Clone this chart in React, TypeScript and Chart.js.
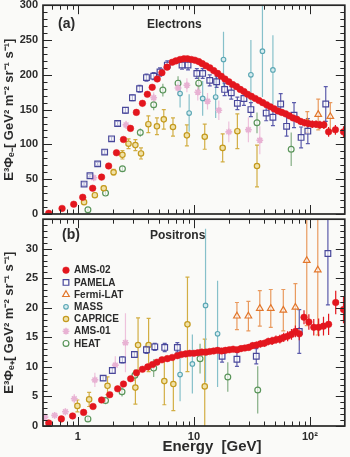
import React, { useEffect, useRef } from 'react';
import { Chart, registerables } from 'chart.js';
import { drawPoint } from 'chart.js/helpers';

Chart.register(...registerables);

// ---------------- axes ----------------
const X_MIN = 0.5;
const X_MAX = 200;
const X_MAJOR = [1, 10, 100];
const X_MINOR = [0.6, 0.7, 0.8, 0.9, 2, 3, 4, 5, 6, 7, 8, 9, 20, 30, 40, 50, 60, 70, 80, 90];
const X_LABELS = ['1', '10', '10²'];
const X_TITLE = 'Energy  [GeV]';

const E_Y_MAX = 300;
const P_Y_MAX = 35;
const E_TITLE = 'E³Φₑ₋[ GeV² m⁻² sr⁻¹ s⁻¹]';
const P_TITLE = 'E³Φₑ₊[ GeV² m⁻² sr⁻¹ s⁻¹]';

// ---------------- electrons (top panel) ----------------
const E_AMS02_X = [0.56, 0.73, 0.92, 1.10, 1.34, 1.60, 1.84, 2.15, 2.47, 2.84, 3.19, 3.60, 3.97, 4.37, 4.83, 5.30, 5.87, 6.50, 7.0, 7.6, 8.2, 8.8, 9.5, 10.2, 11.0, 11.8, 12.7, 13.7, 14.8, 16.0, 17.2, 18.5, 20.0, 21.6, 23.3, 25.1, 27.0, 29.0, 31.3, 33.8, 36.4, 39.2, 42.3, 45.6, 49.2, 53.0, 57.2, 61.7, 66.5, 71.7, 77.3, 83.4, 90.0, 97.0, 105, 113, 122, 132, 145, 166, 195];
const E_AMS02_Y = [1, 8, 14, 24, 37, 53, 69, 88, 107, 123, 146, 159, 172, 182, 194, 203, 211, 218, 220, 222, 223, 223, 222, 221, 219, 216, 213, 210, 206, 202, 198, 194, 190, 186, 183, 179, 176, 172, 169, 166, 163, 160, 157, 154, 151, 148, 146, 144, 141, 138, 136, 133, 131, 130, 129, 129, 128, 128, 118, 121, 118];
const E_AMS02_ERR = [1, 1, 1, 1, 1.5, 1.5, 2, 2, 2, 2.5, 3, 3, 3, 3, 3, 3, 3, 3, 3, 3, 3, 3, 3, 3, 3, 3, 3, 3, 3, 3, 3, 3, 3, 3, 3, 3, 3, 3, 3.5, 3.5, 3.5, 3.5, 3.5, 4, 4, 4, 4, 4, 4.5, 4.5, 5, 5, 5, 5, 5.5, 5.5, 6, 6, 7, 7, 8];

const E_PAMELA_X = [1.13, 1.27, 1.48, 1.70, 1.95, 2.20, 2.57, 2.95, 3.40, 3.90, 4.50, 5.10, 5.90, 7.90, 8.90, 10.6, 11.9, 13.7, 15.7, 18.4, 21.0, 23.7, 27.0, 31.0, 42.0, 48.0, 56.0, 63.0, 73.0, 84.0, 96.0, 137];
const E_PAMELA_Y = [43, 55, 72, 89, 108, 130, 149, 167, 180, 196, 198, 204, 214, 214, 214, 202, 202, 192, 190, 179, 174, 159, 166, 150, 145, 139, 158, 126, 142, 110, 119, 158];
const E_PAMELA_ERR = [2, 2, 2, 3, 3, 3, 4, 4, 5, 5, 5, 6, 6, 6, 7, 7, 7, 8, 8, 9, 9, 9, 10, 10, 11, 12, 15, 14, 18, 15, 18, 25];

const E_FERMI_X = [95, 118, 150];
const E_FERMI_Y = [132, 143, 140];
const E_FERMI_ERR = [15, 22, 20];

const E_MASS_X = [7.6, 9.1, 11.9, 15.4, 18.0, 31.0, 39.0, 48.0];
const E_MASS_Y = [173, 145, 166, 168, 222, 200, 234, 207];
const E_MASS_ERR = [20, 27, 25, 30, 40, 50, 66, 50];

const E_CAPRICE_X = [1.13, 1.40, 1.67, 2.03, 2.42, 2.73, 3.13, 3.50, 4.05, 4.80, 5.50, 6.60, 8.70, 12.4, 17.7, 23.7, 35.0];
const E_CAPRICE_Y = [17, 27, 37, 60, 85, 101, 99, 87, 129, 126, 136, 125, 113, 111, 95, 119, 69];
const E_CAPRICE_ERR = [2, 3, 3, 4, 6, 7, 8, 8, 12, 12, 14, 13, 15, 18, 20, 25, 30];

const E_AMS01_X = [1.37, 2.60, 4.50, 7.30, 8.70, 10.8, 13.1, 16.4, 20.0, 29.5, 37.0];
const E_AMS01_Y = [52, 128, 167, 181, 185, 175, 162, 149, 118, 121, 106];
const E_AMS01_ERR = [4, 6, 8, 10, 10, 12, 12, 14, 15, 18, 20];

const E_HEAT_X = [1.22, 1.73, 2.42, 3.45, 4.50, 5.40, 7.30, 11.0, 35.0, 69.0];
const E_HEAT_Y = [6, 30, 65, 117, 157, 178, 188, 188, 131, 93];
const E_HEAT_ERR = [2, 3, 4, 6, 8, 9, 10, 11, 15, 24];

// ---------------- positrons (bottom panel) ----------------
const P_AMS02_X = [0.56, 0.72, 0.90, 1.12, 1.35, 1.60, 1.88, 2.20, 2.47, 2.85, 3.20, 3.60, 4.00, 4.40, 4.80, 5.30, 5.90, 6.50, 7.20, 7.80, 8.50, 9.20, 10.0, 10.8, 11.7, 12.7, 13.7, 14.8, 16.0, 17.3, 18.7, 20.2, 21.8, 23.6, 25.5, 27.5, 29.7, 32.1, 34.7, 37.5, 40.5, 43.7, 47.2, 51.0, 55.1, 59.5, 64.3, 69.4, 75.0, 81.0, 89.0, 98.0, 108, 119, 131, 145, 167, 195];
const P_AMS02_Y = [0.5, 1.2, 1.7, 2.3, 3.3, 4.4, 5.3, 6.3, 7.1, 8.0, 9.0, 9.6, 10.0, 10.4, 10.8, 11.2, 11.4, 11.6, 11.9, 12.1, 12.2, 12.3, 12.3, 12.4, 12.5, 12.5, 12.6, 12.7, 12.8, 12.7, 12.8, 12.9, 13.0, 12.9, 13.1, 13.2, 13.3, 13.6, 13.7, 13.9, 14.0, 14.3, 14.4, 14.6, 14.7, 15.0, 15.2, 15.5, 16.0, 15.6, 18.4, 17.6, 16.7, 16.7, 16.9, 17.2, 20.9, 19.7];
const P_AMS02_ERR = [0.2, 0.2, 0.2, 0.2, 0.2, 0.2, 0.2, 0.2, 0.2, 0.2, 0.25, 0.25, 0.25, 0.25, 0.3, 0.3, 0.3, 0.3, 0.3, 0.3, 0.3, 0.3, 0.35, 0.35, 0.35, 0.35, 0.4, 0.4, 0.4, 0.4, 0.4, 0.45, 0.45, 0.45, 0.5, 0.5, 0.5, 0.55, 0.55, 0.6, 0.6, 0.65, 0.7, 0.7, 0.75, 0.8, 0.85, 0.9, 1.0, 1.1, 1.2, 1.3, 1.4, 1.5, 1.6, 1.8, 2.0, 2.3];

const P_PAMELA_X = [1.65, 1.98, 2.42, 3.07, 3.90, 4.60, 5.60, 7.20, 17.5, 23.5, 34.5, 81.0, 143];
const P_PAMELA_Y = [8.1, 9.4, 11.2, 12.1, 12.9, 13.4, 13.3, 13.3, 11.8, 11.3, 11.8, 16.0, 29.2];
const P_PAMELA_ERR = [0.4, 0.5, 0.5, 0.5, 0.6, 0.6, 0.7, 0.8, 1.0, 1.2, 1.3, 3.7, 8.7];

const P_FERMI_X = [23.5, 29.5, 37.0, 46.0, 59.0, 75.0, 94.0, 117];
const P_FERMI_Y = [18.6, 18.6, 19.9, 19.9, 19.6, 20.1, 28.0, 26.4];
const P_FERMI_ERR = [2.3, 2.5, 3.0, 3.2, 3.5, 4.0, 11, 11];

const P_MASS_X = [7.6, 9.7, 12.6, 16.0];
const P_MASS_Y = [8.7, 10.5, 20.4, 15.6];
const P_MASS_ERR = [4.5, 5, 13, 9];

const P_CAPRICE_X = [0.99, 1.25, 1.80, 3.13, 3.30, 4.07, 5.56, 6.65, 8.80, 12.4];
const P_CAPRICE_Y = [3.4, 4.5, 6.8, 6.5, 13.7, 13.7, 7.6, 7.1, 17.2, 6.7];
const P_CAPRICE_ERR = [1, 1.2, 1.5, 2.8, 4.6, 4.5, 4, 4.5, 8, 8];

const P_AMS01_X = [0.52, 0.63, 0.78, 0.93, 1.40, 2.10, 2.57];
const P_AMS01_Y = [1.5, 1.8, 2.4, 4.6, 7.8, 10.3, 14.1];
const P_AMS01_ERR = [0.5, 0.5, 0.6, 0.8, 1.2, 1.5, 5];

const P_HEAT_X = [1.22, 1.73, 2.40, 3.10, 4.50, 11.3, 19.6, 35.5];
const P_HEAT_Y = [1.2, 4.3, 5.8, 8.6, 9.8, 11.4, 8.3, 6.1];
const P_HEAT_ERR = [0.4, 0.6, 0.8, 1.0, 1.5, 2.5, 2.5, 4];

// ---------------- styles ----------------
const FONT = "'Liberation Sans', Arial, Helvetica, sans-serif";
const TXT = '#2b2b2b';

type Sty = { label: string; ps: string; r: number; fill: string; stroke: string; bw: number; err: string; cap: number };
const S_AMS02: Sty = { label: 'AMS-02', ps: 'circle', r: 3.3, fill: '#e3161e', stroke: '#e3161e', bw: 0.5, err: '#e3161e', cap: 0 };
const S_PAMELA: Sty = { label: 'PAMELA', ps: 'rect', r: 4.0, fill: 'rgba(255,255,255,0.6)', stroke: '#48479a', bw: 1.2, err: '#5b5bab', cap: 2 };
const S_FERMI: Sty = { label: 'Fermi-LAT', ps: 'triangle', r: 3.8, fill: 'rgba(255,255,255,0.6)', stroke: '#e2772c', bw: 1.2, err: '#e99a5e', cap: 2 };
const S_MASS: Sty = { label: 'MASS', ps: 'circle', r: 2.3, fill: '#d6ecef', stroke: '#5aa6b3', bw: 1.1, err: '#86c0ca', cap: 0 };
const S_CAPRICE: Sty = { label: 'CAPRICE', ps: 'circle', r: 2.7, fill: '#f0e2a8', stroke: '#c49a1e', bw: 1.2, err: '#d2ae44', cap: 2 };
const S_AMS01: Sty = { label: 'AMS-01', ps: 'star', r: 3.4, fill: '#e8b2d3', stroke: '#e8b2d3', bw: 1.6, err: '#eec2dc', cap: 0 };
const S_HEAT: Sty = { label: 'HEAT', ps: 'circle', r: 2.9, fill: 'rgba(255,255,255,0.6)', stroke: '#5a955a', bw: 1.2, err: '#84ae84', cap: 0 };

function ds(s: Sty, xs: number[], ys: number[], errs: number[]) {
  return {
    label: s.label,
    data: xs.map((x, i) => ({ x, y: ys[i] })),
    errs,
    errColor: s.err,
    cap: s.cap,
    pointStyle: s.ps,
    pointRadius: s.r,
    pointHoverRadius: s.r,
    pointBackgroundColor: s.fill,
    pointBorderColor: s.stroke,
    pointBorderWidth: s.bw,
    showLine: false,
  };
}

// ---------------- plugins ----------------
const errPlugin = {
  id: 'errbars',
  beforeDatasetsDraw(chart: any) {
    const { ctx, chartArea: a, scales } = chart;
    const xs = scales.x, ys = scales.y;
    ctx.save();
    ctx.beginPath();
    ctx.rect(a.left, a.top, a.right - a.left, a.bottom - a.top);
    ctx.clip();
    chart.data.datasets.slice().reverse().forEach((d: any) => {
      if (!d.errs) return;
      ctx.strokeStyle = d.errColor;
      ctx.lineWidth = 1.2;
      d.data.forEach((p: any, i: number) => {
        const e = d.errs[i];
        if (!e) return;
        const px = xs.getPixelForValue(p.x);
        const y1 = ys.getPixelForValue(p.y - e);
        const y2 = ys.getPixelForValue(p.y + e);
        ctx.beginPath();
        ctx.moveTo(px, y1);
        ctx.lineTo(px, y2);
        if (d.cap) {
          ctx.moveTo(px - d.cap, y1); ctx.lineTo(px + d.cap, y1);
          ctx.moveTo(px - d.cap, y2); ctx.lineTo(px + d.cap, y2);
        }
        ctx.stroke();
      });
    });
    ctx.restore();
  },
};

const framePlugin = {
  id: 'frame',
  afterDraw(chart: any, _args: any, o: any) {
    const { ctx, chartArea: a, scales } = chart;
    const xs = scales.x, ys = scales.y;
    ctx.save();
    ctx.strokeStyle = '#262626';
    ctx.lineWidth = 1;
    ctx.beginPath();
    const xt = (v: number, len: number) => {
      const p = Math.round(xs.getPixelForValue(v)) + 0.5;
      ctx.moveTo(p, a.bottom); ctx.lineTo(p, a.bottom - len);
      ctx.moveTo(p, a.top); ctx.lineTo(p, a.top + len);
    };
    X_MAJOR.forEach((v) => xt(v, 9));
    X_MINOR.forEach((v) => xt(v, 4.5));
    const n = Math.round((ys.max - ys.min) / o.yMinor);
    for (let k = 0; k <= n; k++) {
      const v = ys.min + k * o.yMinor;
      const major = Math.abs(v / o.yMajor - Math.round(v / o.yMajor)) < 1e-6;
      const len = major ? 9 : 4.5;
      const p = Math.round(ys.getPixelForValue(v)) + 0.5;
      ctx.moveTo(a.left, p); ctx.lineTo(a.left + len, p);
      ctx.moveTo(a.right, p); ctx.lineTo(a.right - len, p);
    }
    ctx.stroke();
    ctx.lineWidth = 1.7;
    ctx.strokeRect(a.left, a.top, a.right - a.left, a.bottom - a.top);
    ctx.restore();
  },
};

const textPlugin = {
  id: 'texts',
  afterDraw(chart: any, _args: any, o: any) {
    const { ctx, chartArea: a } = chart;
    ctx.save();
    ctx.fillStyle = TXT;
    ctx.textBaseline = 'middle';
    (o.items || []).forEach((t: any) => {
      ctx.font = `bold ${t.size}px ${FONT}`;
      ctx.textAlign = t.align || 'left';
      const x = t.fx !== undefined ? a.left + t.fx * (a.right - a.left) : a.left + t.dx;
      const y = t.below ? a.bottom + t.dy : a.top + t.dy;
      ctx.fillText(t.text, x, y);
    });
    if (o.legend) {
      const L = o.legend;
      chart.data.datasets.forEach((d: any, i: number) => {
        const y = a.top + L.dy + i * L.gap;
        const mx = a.left + L.markerDx;
        ctx.fillStyle = d.pointBackgroundColor;
        ctx.strokeStyle = d.pointBorderColor;
        ctx.lineWidth = d.pointBorderWidth;
        drawPoint(ctx, { pointStyle: d.pointStyle, radius: d.pointRadius, borderWidth: d.pointBorderWidth, rotation: 0 } as any, mx, y);
        ctx.fillStyle = TXT;
        ctx.font = `bold ${L.size}px ${FONT}`;
        ctx.textAlign = 'left';
        ctx.fillText(d.label, a.left + L.textDx, y + 0.5);
      });
    }
    ctx.restore();
  },
};

function yScale(max: number, step: number, title: string, hideMax: boolean) {
  return {
    type: 'linear',
    min: 0,
    max,
    ticks: {
      stepSize: step,
      autoSkip: false,
      padding: 5,
      color: TXT,
      font: { family: FONT, size: 11, weight: 'bold' },
      callback: (v: any) => (hideMax && Math.abs(v - max) < 1e-9 ? '' : String(v)),
    },
    grid: { display: false, drawTicks: false },
    border: { display: false },
    title: { display: true, text: title, color: TXT, font: { family: FONT, size: 13, weight: 'bold' }, padding: { top: 2, bottom: 0 } },
    afterFit: (s: any) => {
      s.width = 43;
      s.paddingTop = 0;
      s.paddingBottom = 0;
    },
  };
}

function xScale(show: boolean) {
  return {
    type: 'logarithmic',
    min: X_MIN,
    max: X_MAX,
    display: show,
    ticks: {
      autoSkip: false,
      maxRotation: 0,
      minRotation: 0,
      padding: 4,
      color: TXT,
      font: { family: FONT, size: 11, weight: 'bold' },
      callback: (v: any) => {
        const i = X_MAJOR.findIndex((m) => Math.abs(v - m) / m < 1e-6);
        return i >= 0 ? X_LABELS[i] : '';
      },
    },
    grid: { display: false, drawTicks: false },
    border: { display: false },
    afterFit: (s: any) => {
      s.height = show ? 31 : 0;
      s.paddingLeft = 0;
      s.paddingRight = 0;
    },
  };
}

function topConfig(): any {
  return {
    type: 'scatter',
    data: {
      datasets: [
        ds(S_AMS02, E_AMS02_X, E_AMS02_Y, E_AMS02_ERR),
        ds(S_PAMELA, E_PAMELA_X, E_PAMELA_Y, E_PAMELA_ERR),
        ds(S_FERMI, E_FERMI_X, E_FERMI_Y, E_FERMI_ERR),
        ds(S_MASS, E_MASS_X, E_MASS_Y, E_MASS_ERR),
        ds(S_CAPRICE, E_CAPRICE_X, E_CAPRICE_Y, E_CAPRICE_ERR),
        ds(S_AMS01, E_AMS01_X, E_AMS01_Y, E_AMS01_ERR),
        ds(S_HEAT, E_HEAT_X, E_HEAT_Y, E_HEAT_ERR),
      ],
    },
    options: {
      responsive: false,
      animation: false,
      events: [],
      layout: { padding: { top: 5, right: 3, bottom: 8, left: 0 } },
      scales: { x: xScale(false), y: yScale(E_Y_MAX, 50, E_TITLE, false) },
      plugins: {
        legend: { display: false },
        tooltip: { enabled: false },
        frame: { yMinor: 10, yMajor: 50 },
        texts: {
          items: [
            { text: '(a)', size: 14, dx: 15, dy: 19 },
            { text: 'Electrons', size: 12, dx: 104, dy: 19 },
          ],
        },
      },
    },
    plugins: [errPlugin, framePlugin, textPlugin],
  };
}

function bottomConfig(): any {
  return {
    type: 'scatter',
    data: {
      datasets: [
        ds(S_AMS02, P_AMS02_X, P_AMS02_Y, P_AMS02_ERR),
        ds(S_PAMELA, P_PAMELA_X, P_PAMELA_Y, P_PAMELA_ERR),
        ds(S_FERMI, P_FERMI_X, P_FERMI_Y, P_FERMI_ERR),
        ds(S_MASS, P_MASS_X, P_MASS_Y, P_MASS_ERR),
        ds(S_CAPRICE, P_CAPRICE_X, P_CAPRICE_Y, P_CAPRICE_ERR),
        ds(S_AMS01, P_AMS01_X, P_AMS01_Y, P_AMS01_ERR),
        ds(S_HEAT, P_HEAT_X, P_HEAT_Y, P_HEAT_ERR),
      ],
    },
    options: {
      responsive: false,
      animation: false,
      events: [],
      layout: { padding: { top: 1, right: 3, bottom: 0, left: 0 } },
      scales: { x: xScale(true), y: yScale(P_Y_MAX, 5, P_TITLE, true) },
      plugins: {
        legend: { display: false },
        tooltip: { enabled: false },
        frame: { yMinor: 1, yMajor: 5 },
        texts: {
          items: [
            { text: '(b)', size: 14, dx: 19, dy: 16 },
            { text: 'Positrons', size: 12, dx: 107, dy: 16 },
            { text: X_TITLE, size: 15, fx: 0.56, dy: 21, below: true, align: 'center' },
          ],
          legend: { dy: 51, gap: 12.2, markerDx: 23, textDx: 31, size: 10 },
        },
      },
    },
    plugins: [errPlugin, framePlugin, textPlugin],
  };
}

export default function App() {
  const topRef = useRef<HTMLCanvasElement>(null);
  const botRef = useRef<HTMLCanvasElement>(null);
  useEffect(() => {
    const top = new Chart(topRef.current as HTMLCanvasElement, topConfig());
    const bot = new Chart(botRef.current as HTMLCanvasElement, bottomConfig());
    return () => {
      top.destroy();
      bot.destroy();
    };
  }, []);
  return (
    <div style={{ position: 'absolute', left: 0, top: 0, width: 350, height: 457, background: '#fafaf8', overflow: 'hidden' }}>
      <canvas ref={topRef} width={350} height={222} style={{ position: 'absolute', left: 0, top: 0, width: 350, height: 222 }} />
      <canvas ref={botRef} width={350} height={243} style={{ position: 'absolute', left: 0, top: 214, width: 350, height: 243 }} />
    </div>
  );
}
